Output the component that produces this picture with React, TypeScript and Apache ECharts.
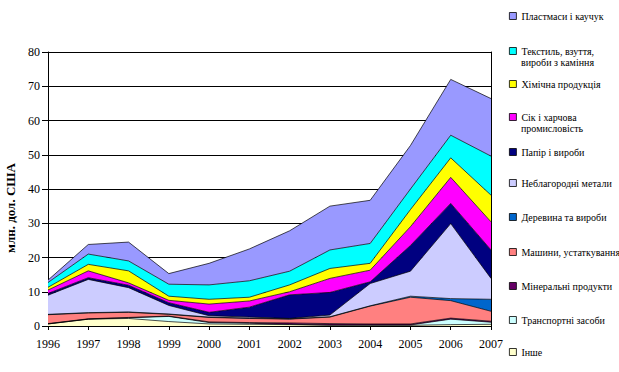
import React, { useEffect, useRef } from "react";
import * as echarts from "echarts";

const years = ["1996", "1997", "1998", "1999", "2000", "2001", "2002", "2003", "2004", "2005", "2006", "2007"];
const yTicks = [0, 80, 10];

const inshe = [0.6, 2.0, 2.2, 1.3, 0.6, 0.5, 0.4, 0.2, 0.2, 0.2, 0.4, 0.5];
const transport = [0.0, 0.0, 0.2, 1.5, 0.4, 0.3, 0.1, 0.1, 0.1, 0.1, 1.6, 0.6];
const mineral = [0.1, 0.1, 0.1, 0.1, 0.2, 0.2, 0.4, 0.4, 0.3, 0.3, 0.3, 0.3];
const machines = [2.6, 1.7, 1.5, 0.5, 1.3, 1.2, 1.1, 1.9, 5.2, 7.8, 5.1, 2.9];
const wood = [0.1, 0.1, 0.1, 0.1, 0.1, 0.1, 0.1, 0.1, 0.1, 0.3, 0.6, 3.5];
const metals = [5.6, 9.7, 7.1, 2.5, 0.4, 0.3, 0.1, 0.5, 6.5, 7.3, 21.9, 6.1];
const paper = [0.5, 0.5, 0.7, 0.8, 1.0, 2.9, 6.9, 6.6, 0.5, 7.5, 5.9, 8.3];
const food = [1.0, 2.0, 0.7, 0.7, 2.4, 1.8, 0.9, 4.1, 3.4, 5.5, 7.6, 8.2];
const chemical = [0.8, 1.9, 3.5, 1.2, 1.4, 1.1, 2.0, 2.9, 2.0, 5.0, 5.7, 7.8];
const textile = [1.4, 3.0, 2.9, 3.5, 4.2, 4.8, 4.0, 5.4, 5.8, 6.0, 6.6, 11.4];
const plastics = [0.7, 2.8, 5.5, 3.1, 6.3, 9.3, 11.8, 12.8, 12.6, 12.7, 16.3, 16.8];

const seriesNames = [
  "Інше",
  "Транспортні засоби",
  "Мінеральні продукти",
  "Машини, устаткування",
  "Деревина та вироби",
  "Неблагородні метали",
  "Папір і вироби",
  "Сік і харчова промисловість",
  "Хімічна продукція",
  "Текстиль, взуття, вироби з каміння",
  "Пластмаси і каучук",
];
const seriesData = [inshe, transport, mineral, machines, wood, metals, paper, food, chemical, textile, plastics];
const seriesColors = ["#FFFFCC", "#CCFFFF", "#660066", "#FF8080", "#0066CC", "#CCCCFF", "#000080", "#FF00FF", "#FFFF00", "#00FFFF", "#9999FF"];

// legend layout (top to bottom): name, first line, second line, square centre y
const legendLayout: [string, string, string, number][] = [
  ["Пластмаси і каучук", "Пластмаси і каучук", "", 16],
  ["Текстиль, взуття, вироби з каміння", "Текстиль, взуття,", "вироби з каміння", 51],
  ["Хімічна продукція", "Хімічна продукція", "", 84],
  ["Сік і харчова промисловість", "Сік і харчова", "промисловість", 117],
  ["Папір і вироби", "Папір і вироби", "", 152],
  ["Неблагородні метали", "Неблагородні метали", "", 183],
  ["Деревина та вироби", "Деревина та вироби", "", 217],
  ["Машини, устаткування", "Машини, устаткування", "", 252],
  ["Мінеральні продукти", "Мінеральні продукти", "", 286],
  ["Транспортні засоби", "Транспортні засоби", "", 320],
  ["Інше", "Інше", "", 352],
];

const FONT = "'Liberation Serif', 'Times New Roman', serif";

export default function App() {
  const ref = useRef<HTMLDivElement>(null);
  useEffect(() => {
    if (!ref.current) return;
    const chart = echarts.init(ref.current, undefined, { renderer: "svg" });
    const legendX = 509;
    const legends = legendLayout.map(([name, first, , cy]) => ({
      data: [name],
      orient: "vertical",
      left: legendX,
      top: cy - 6,
      padding: 0,
      itemGap: 0,
      itemWidth: 7,
      itemHeight: 7,
      icon: "rect",
      selectedMode: false,
      itemStyle: { borderColor: "#000", borderWidth: 0.8 },
      textStyle: { fontFamily: FONT, fontSize: 10, color: "#000", lineHeight: 12 },
      formatter: () => first,
    }));
    const secondLines = legendLayout
      .filter((l) => l[2])
      .map(([, , second, cy]) => ({
        type: "text",
        x: legendX + 12,
        y: cy + 11.7,
        style: {
          text: second,
          font: `10px ${FONT}`,
          fill: "#000",
          textVerticalAlign: "middle",
        },
      }));
    chart.setOption({
      animation: false,
      backgroundColor: "#fff",
      grid: { left: 48, right: 128, top: 52, bottom: 46 },
      legend: legends,
      graphic: [
        {
          type: "text",
          x: 10,
          y: 208,
          rotation: Math.PI / 2,
          style: {
            text: "млн. дол. США",
            font: `bold 13px ${FONT}`,
            fill: "#000",
            textAlign: "center",
            textVerticalAlign: "middle",
          },
        },
        ...secondLines,
      ],
      xAxis: {
        type: "category",
        data: years,
        boundaryGap: false,
        axisLine: { show: true, lineStyle: { color: "#000", width: 1 } },
        axisTick: { show: true, length: 4, lineStyle: { color: "#000" } },
        axisLabel: { interval: 0, margin: 12, fontFamily: FONT, fontSize: 12, color: "#000" },
        splitLine: { show: false },
      },
      yAxis: [
        {
          type: "value",
          min: yTicks[0],
          max: yTicks[1],
          interval: yTicks[2],
          axisLine: { show: true, lineStyle: { color: "#000", width: 1 } },
          axisTick: { show: true, length: 6, lineStyle: { color: "#000" } },
          axisLabel: { margin: 8, fontFamily: FONT, fontSize: 12, color: "#000" },
          splitLine: { show: true, lineStyle: { color: "#000", width: 1 } },
        },
        {
          type: "value",
          position: "right",
          min: yTicks[0],
          max: yTicks[1],
          interval: yTicks[2],
          axisLine: { show: true, lineStyle: { color: "#000", width: 1 } },
          axisTick: { show: false },
          axisLabel: { show: false },
          splitLine: { show: false },
        },
      ],
      series: seriesNames.map((name, i) => ({
        name,
        type: "line",
        stack: "total",
        data: seriesData[i],
        symbol: "none",
        showSymbol: false,
        lineStyle: { color: "#000", width: 0.7 },
        itemStyle: { color: seriesColors[i] },
        areaStyle: { color: seriesColors[i], opacity: 1 },
        z: 2,
      })),
    });
    return () => chart.dispose();
  }, []);
  return (
    <div
      ref={ref}
      style={{ position: "fixed", left: 0, top: 0, width: 619, height: 372, background: "#fff" }}
    />
  );
}
